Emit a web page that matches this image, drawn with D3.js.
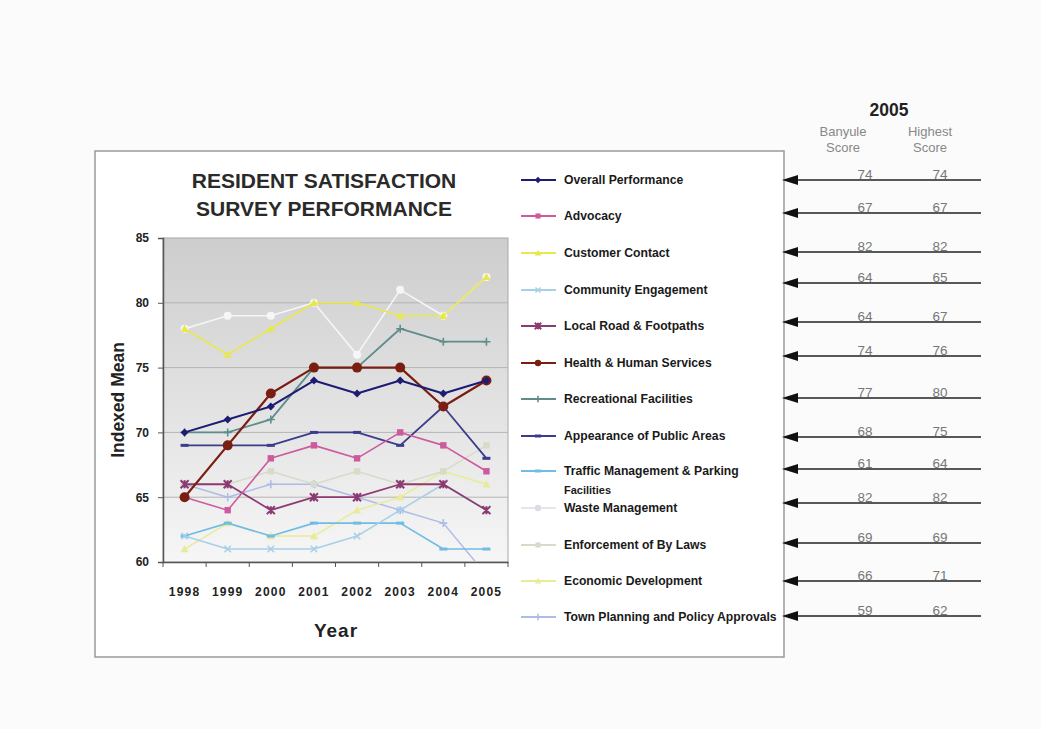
<!DOCTYPE html>
<html><head><meta charset="utf-8">
<script src="https://cdn.jsdelivr.net/npm/d3@7"></script>
<style>body{margin:0;background:#fbfbfb;} svg{display:block;}</style>
</head><body>
<svg id="c" width="1041" height="729"></svg>
<script>
const years = ["1998","1999","2000","2001","2002","2003","2004","2005"];
const seriesNames = ["Overall Performance","Advocacy","Customer Contact","Community Engagement","Local Road & Footpaths","Health & Human Services","Recreational Facilities","Appearance of Public Areas","Traffic Management & Parking Facilities","Waste Management","Enforcement of By Laws","Economic Development","Town Planning and Policy Approvals"];
const overall      = [70,71,72,74,73,74,73,74];
const advocacy     = [65,64,68,69,68,70,69,67];
const customer     = [78,76,78,80,80,79,79,82];
const community    = [62,61,61,61,62,64,66,64];
const localRoad    = [66,66,64,65,65,66,66,64];
const health       = [65,69,73,75,75,75,72,74];
const recreational = [70,70,71,75,75,78,77,77];
const appearance   = [69,69,69,70,70,69,72,68];
const traffic      = [62,63,62,63,63,63,61,61];
const waste        = [78,79,79,80,76,81,79,82];
const enforcement  = [66,66,67,66,67,66,67,69];
const economic     = [61,63,62,62,64,65,67,66];
const townPlanning = [66,65,66,66,65,64,63,59];
const yTicks = [60,65,70,75,80,85];
const banyule2005 = [74,67,82,64,64,74,77,68,61,82,69,66,59];
const highest2005 = [74,67,82,65,67,76,80,75,64,82,69,71,62];

const values = [overall,advocacy,customer,community,localRoad,health,recreational,appearance,traffic,waste,enforcement,economic,townPlanning];
const colors = ["#1c1c72","#cc5a9c","#e8e84a","#a6cfe8","#8c3a72","#7a1e12","#5f8c8c","#3c3c8c","#70bce4","#f6f6fa","#d6dcc8","#e8ec96","#aebce6"];
const markers = ["diamond","square","triangle","cross","star","circle","plus","dash","dash","circle","square","triangle","plus"];
const widths = [2,1.6,1.6,1.5,1.8,2.2,1.8,1.8,1.6,1.6,1.5,1.5,1.5];

const svg = d3.select("#c");
svg.append("rect").attr("x",95).attr("y",151).attr("width",689).attr("height",506)
  .attr("fill","#fff").attr("stroke","#9a9a9a").attr("stroke-width",1.5);

const x = d3.scaleBand().domain(years).range([163,508]);
const y = d3.scaleLinear().domain([60,85]).range([562,238]);
const cx = d => x(d) + x.bandwidth()/2;

const defs = svg.append("defs");
const g = defs.append("linearGradient").attr("id","bg").attr("x1",0).attr("y1",0).attr("x2",0).attr("y2",1);
g.append("stop").attr("offset","0%").attr("stop-color","#cdcdcd");
g.append("stop").attr("offset","100%").attr("stop-color","#f6f6f6");
defs.append("clipPath").attr("id","clip").append("rect")
  .attr("x",163).attr("y",y(85)).attr("width",345).attr("height",y(60)-y(85));

svg.append("rect").attr("x",163).attr("y",y(85)).attr("width",345).attr("height",y(60)-y(85))
  .attr("fill","url(#bg)").attr("stroke","#a8a8a8");

svg.append("g").selectAll("line").data(yTicks.filter(t=>t>60&&t<85)).join("line")
  .attr("x1",163).attr("x2",508).attr("y1",d=>y(d)).attr("y2",d=>y(d))
  .attr("stroke","#b4b4b4").attr("stroke-width",1);

const font = "Liberation Sans, Arial, sans-serif";
const yAxis = svg.append("g").attr("transform","translate(163,0)")
  .call(d3.axisLeft(y).tickValues(yTicks).tickSize(5).tickPadding(9));
const xAxis = svg.append("g").attr("transform",`translate(0,${y(60)})`)
  .call(d3.axisBottom(x).tickSize(0).tickPadding(25));
xAxis.selectAll(".tick line").remove();
svg.append("g").selectAll("line").data(years.concat(["end"])).join("line")
  .attr("x1",(d,i)=>163+i*x.bandwidth()).attr("x2",(d,i)=>163+i*x.bandwidth())
  .attr("y1",y(60)).attr("y2",y(60)+5).attr("stroke","#555");
[yAxis,xAxis].forEach(a=>{
  a.select(".domain").attr("stroke","#555").attr("stroke-width",1.5);
  a.selectAll("text").attr("font-family",font)
    .attr("font-weight","bold").attr("font-size",12).attr("fill","#222");
});
xAxis.selectAll("text").attr("letter-spacing",1.2);
yAxis.selectAll(".tick line").attr("stroke","#555");

const line = d3.line().x((d,i)=>cx(years[i])).y(d=>y(d));
const plot = svg.append("g").attr("clip-path","url(#clip)");
const order = [12,11,10,8,3,9,2,7,4,1,6,5,0];
function drawMarker(sel, type, col, s){
  if(type==="diamond") sel.append("path").attr("d",`M0,${-s}L${s},0L0,${s}L${-s},0Z`).attr("fill",col);
  else if(type==="square") sel.append("rect").attr("x",-s*0.8).attr("y",-s*0.8).attr("width",s*1.6).attr("height",s*1.6).attr("fill",col);
  else if(type==="triangle") sel.append("path").attr("d",`M0,${-s}L${s},${s*0.8}L${-s},${s*0.8}Z`).attr("fill",col);
  else if(type==="circle") sel.append("circle").attr("r",s).attr("fill",col);
  else if(type==="cross") sel.append("path").attr("d",`M${-s*0.8},${-s*0.8}L${s*0.8},${s*0.8}M${-s*0.8},${s*0.8}L${s*0.8},${-s*0.8}`).attr("stroke",col).attr("stroke-width",1.5);
  else if(type==="star") sel.append("path").attr("d",`M${-s},${-s}L${s},${s}M${-s},${s}L${s},${-s}M0,${-s}L0,${s}`).attr("stroke",col).attr("stroke-width",2);
  else if(type==="plus") sel.append("path").attr("d",`M${-s},0L${s},0M0,${-s}L0,${s}`).attr("stroke",col).attr("stroke-width",1.6);
  else if(type==="dash") sel.append("path").attr("d",`M${-s},0L${s},0`).attr("stroke",col).attr("stroke-width",3);
}
order.forEach(k=>{
  plot.append("path").datum(values[k]).attr("d",line).attr("fill","none")
    .attr("stroke",colors[k]).attr("stroke-width",widths[k]).attr("stroke-linejoin","round");
  values[k].forEach((v,i)=>{
    const m = plot.append("g").attr("transform",`translate(${cx(years[i])},${y(v)})`);
    drawMarker(m, markers[k], colors[k], k===5?5:4);
  });
});

svg.append("text").attr("x",324).attr("y",188).attr("text-anchor","middle")
  .attr("font-family",font).attr("font-weight","bold").attr("font-size",21).attr("fill","#2a2a2a")
  .text("RESIDENT SATISFACTION");
svg.append("text").attr("x",324).attr("y",216).attr("text-anchor","middle")
  .attr("font-family",font).attr("font-weight","bold").attr("font-size",21).attr("fill","#2a2a2a")
  .text("SURVEY PERFORMANCE");
svg.append("text").attr("x",336).attr("y",637).attr("text-anchor","middle")
  .attr("font-family",font).attr("font-weight","bold").attr("font-size",19).attr("letter-spacing",1)
  .attr("fill","#222").text("Year");
svg.append("text").attr("transform","translate(124,400) rotate(-90)").attr("text-anchor","middle")
  .attr("font-family",font).attr("font-weight","bold").attr("font-size",17.5).attr("fill","#222").text("Indexed Mean");

const legY = [180,216,253,290,326,363,399,436,471,508,545,581,617];
const leg = svg.append("g");
seriesNames.forEach((name,k)=>{
  const yy = legY[k];
  leg.append("line").attr("x1",521).attr("x2",556).attr("y1",yy).attr("y2",yy)
    .attr("stroke",colors[k]==="#f6f6fa"?"#e6e6ea":colors[k]).attr("stroke-width",1.8);
  const m = leg.append("g").attr("transform",`translate(538,${yy})`);
  drawMarker(m, markers[k], colors[k]==="#f6f6fa"?"#dcdce4":colors[k], 3.2);
  const t = leg.append("text").attr("x",564).attr("y",yy+4).attr("font-family",font)
    .attr("font-weight","bold").attr("font-size",12.2).attr("fill","#1a1a1a");
  if(name.startsWith("Traffic")){
    t.text("Traffic Management & Parking");
    leg.append("text").attr("x",564).attr("y",yy+23).attr("font-family",font)
      .attr("font-weight","bold").attr("font-size",11).attr("fill","#1a1a1a").text("Facilities");
  } else t.text(name);
});

const rowY = [180,213,252,283,322,356,398,437,469,503,543,581,616];
svg.append("text").attr("x",889).attr("y",116).attr("text-anchor","middle").attr("font-family",font)
  .attr("font-weight","bold").attr("font-size",17.5).attr("fill","#222").text("2005");
[["Banyule",843],["Highest",930]].forEach(([w,xx])=>{
  svg.append("text").attr("x",xx).attr("y",136).attr("text-anchor","middle").attr("font-family",font)
    .attr("font-size",13).attr("fill","#888").text(w);
  svg.append("text").attr("x",xx).attr("y",152).attr("text-anchor","middle").attr("font-family",font)
    .attr("font-size",13).attr("fill","#888").text("Score");
});
const tbl = svg.append("g");
rowY.forEach((yy,i)=>{
  tbl.append("line").attr("x1",790).attr("x2",981).attr("y1",yy).attr("y2",yy)
    .attr("stroke","#222").attr("stroke-width",1.6);
  tbl.append("path").attr("d",`M782,${yy}L798,${yy-5}L798,${yy+5}Z`).attr("fill","#111");
  tbl.append("text").attr("x",865).attr("y",yy-1).attr("text-anchor","middle").attr("font-family",font)
    .attr("font-size",13.5).attr("fill","#777").text(banyule2005[i]);
  tbl.append("text").attr("x",940).attr("y",yy-1).attr("text-anchor","middle").attr("font-family",font)
    .attr("font-size",13.5).attr("fill","#777").text(highest2005[i]);
});
</script>
</body></html>
